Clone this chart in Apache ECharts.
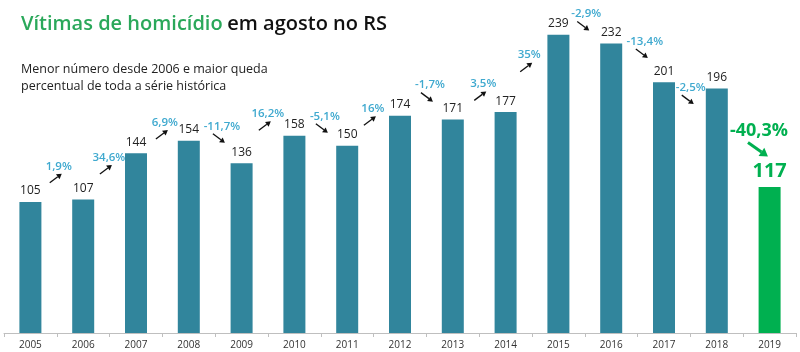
<!DOCTYPE html>
<html><head><meta charset="utf-8">
<script src="https://cdn.jsdelivr.net/npm/echarts@6/dist/echarts.min.js"></script>
<style>html,body{margin:0;padding:0;background:#fff}#c{width:800px;height:352px}</style>
</head><body><div id="c"></div>
<script>
const years = ['2005','2006','2007','2008','2009','2010','2011','2012','2013','2014','2015','2016','2017','2018','2019'];
const victims = [105,107,144,154,136,158,150,174,171,177,239,232,201,196,117];
const changeLabels = ['1,9%','34,6%','6,9%','-11,7%','16,2%','-5,1%','16%','-1,7%','3,5%','35%','-2,9%','-13,4%','-2,5%','-40,3%'];
// annotation anchor points (x in category units, y in data units)
const changeX = [0.48,1.43,2.49,3.57,4.44,5.52,6.43,7.51,8.52,9.39,10.47,11.58,12.45,13.78];
const changeY = [124,131,159,156,166,164,170,189,190,213,246,224,187,147];

const TEAL = '#31859c', GREEN = '#00b050', CYAN = '#3fa9cf';
const FONT = '"Open Sans", "Noto Sans", sans-serif';

const barData = victims.map((v, i) => {
  const last = i === victims.length - 1;
  return last ? {
    value: v, itemStyle: { color: GREEN },
    label: { color: GREEN, fontSize: 20, fontWeight: 'bold', distance: 6 }
  } : v;
});
const annData = changeLabels.map((t, i) => [changeX[i], changeY[i], t, i === changeLabels.length - 1 ? 1 : 0]);

const chart = echarts.init(document.getElementById('c'), null, { renderer: 'canvas' });
chart.setOption({
  animation: false,
  backgroundColor: '#fff',
  textStyle: { fontFamily: FONT },
  title: [{
    left: 21, top: 14, padding: 0,
    text: '{g|Vítimas de homicídio} {k|em agosto no RS}',
    textStyle: { rich: {
      g: { color: '#2aa85a', fontSize: 20, fontWeight: 600, fontFamily: FONT },
      k: { color: '#111', fontSize: 20, fontWeight: 600, fontFamily: FONT }
    } }
  }, {
    left: 21, top: 61, padding: 0,
    text: 'Menor número desde 2006 e maior queda\npercentual de toda a série histórica',
    textStyle: { color: '#222', fontSize: 12.5, fontWeight: 'normal', lineHeight: 17, fontFamily: FONT }
  }],
  grid: { left: 4, right: 4, top: 21, bottom: 19 },
  xAxis: [{
    type: 'category', data: years,
    axisLine: { lineStyle: { color: '#bfbfbf', width: 1 } },
    axisTick: { show: true, alignWithLabel: false, length: 4, lineStyle: { color: '#bfbfbf' } },
    axisLabel: { color: '#333', fontSize: 10, margin: 7, fontFamily: FONT }
  }, {
    type: 'value', min: -0.5, max: years.length - 0.5, show: false
  }],
  yAxis: { type: 'value', min: 0, max: 250, show: false, splitLine: { show: false } },
  series: [{
    type: 'bar', data: barData, barWidth: 22, xAxisIndex: 0,
    itemStyle: { color: TEAL },
    label: { show: true, position: 'top', color: '#222', fontSize: 12, distance: 5, fontFamily: FONT }
  }, {
    type: 'custom', xAxisIndex: 1, yAxisIndex: 0, data: annData,
    renderItem: function (params, api) {
      const p = api.coord([api.value(0), api.value(1)]);
      const txt = annData[params.dataIndex][2];
      const big = annData[params.dataIndex][3] === 1;
      const down = txt.charAt(0) === '-';
      const hx = big ? 10 : 6, hy = big ? 7 : 4.5;
      const x1 = p[0] - hx, x2 = p[0] + hx;
      const y1 = down ? p[1] - hy : p[1] + hy, y2 = down ? p[1] + hy : p[1] - hy;
      const ang = Math.atan2(y2 - y1, x2 - x1);
      const hl = big ? 8 : 5, hw = big ? 5 : 3;
      const bx = x2 - hl * Math.cos(ang), by = y2 - hl * Math.sin(ang);
      const nx = -Math.sin(ang), ny = Math.cos(ang);
      const col = big ? GREEN : '#111';
      return {
        type: 'group',
        children: [{
          type: 'line', shape: { x1: x1, y1: y1, x2: bx, y2: by },
          style: { stroke: col, lineWidth: big ? 3 : 1.3 }
        }, {
          type: 'polygon',
          shape: { points: [[x2, y2], [bx + nx * hw, by + ny * hw], [bx - nx * hw, by - ny * hw]] },
          style: { fill: col }
        }, {
          type: 'text',
          style: {
            text: txt, x: p[0] + (big ? 1 : 3), y: p[1] - (big ? 19 : 12),
            align: 'center', verticalAlign: 'middle',
            fill: big ? GREEN : CYAN,
            font: (big ? 'bold 18px ' : '600 11.5px ') + FONT
          }
        }]
      };
    }
  }]
});
</script></body></html>
